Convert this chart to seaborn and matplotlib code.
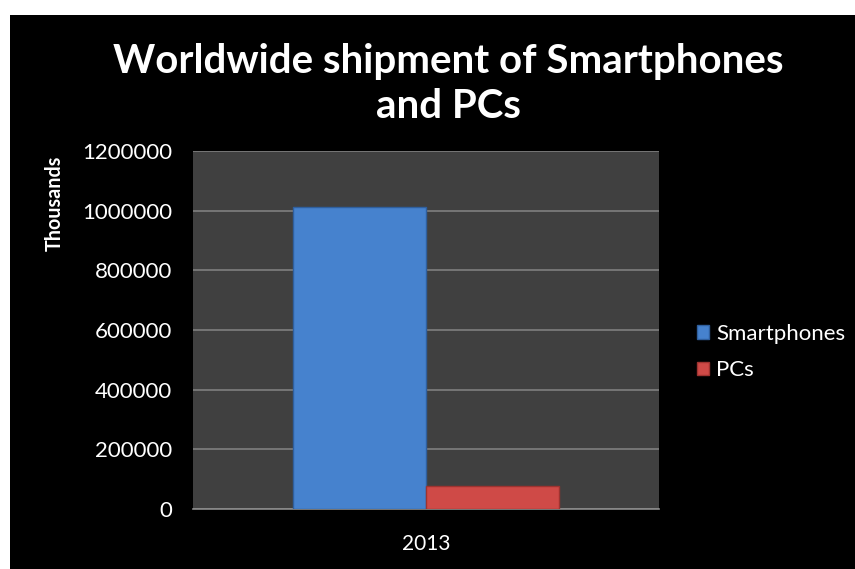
import matplotlib
matplotlib.use("Agg")
import matplotlib.pyplot as plt
from matplotlib.patches import Rectangle, Patch
import seaborn as sns
import pandas as pd

years = ["2013"]
series = ["Smartphones", "PCs"]
values = [1013000, 78000]
colors = ["#4682CE", "#CF4A47"]
edge_colors = ["#2F5F9E", "#9E3330"]
y_ticks = [0, 200000, 400000, 600000, 800000, 1000000, 1200000]

df = pd.DataFrame({"Year": years * len(series), "Series": series, "Value": values})

sns.set_theme(style="dark")
plt.rcParams["font.family"] = ["Lato", "DejaVu Sans"]

fig = plt.figure(figsize=(8.55, 5.69), dpi=100)
fig.patch.set_facecolor("white")
fig.patches.append(Rectangle((10 / 855, 0), 1 - 10 / 855, 1 - 15 / 569,
                             transform=fig.transFigure, facecolor="black",
                             edgecolor="none", zorder=-5))

ax = fig.add_axes([193 / 855, 1 - 509 / 569, 466 / 855, 358 / 569])
ax.set_zorder(2)
ax.set_facecolor("#404040")

sns.barplot(data=df, x="Year", y="Value", hue="Series", hue_order=series,
            palette=colors, width=0.57, ax=ax, legend=False, saturation=1)

for patch, ec in zip(ax.patches, edge_colors):
    patch.set_edgecolor(ec)
    patch.set_linewidth(1.0)
    patch.set_zorder(3)

ax.set_ylim(0, 1200000)
ax.set_xlim(-0.5, 0.5)
ax.set_yticks(y_ticks)
ax.set_yticklabels([str(v) for v in y_ticks])
ax.yaxis.grid(True, color="#7F7F7F", linewidth=1.2, zorder=1)
ax.xaxis.grid(False)
ax.set_axisbelow(True)
for s in ["top", "right", "left"]:
    ax.spines[s].set_visible(False)
ax.spines["bottom"].set_color("#8C8C8C")
ax.spines["bottom"].set_linewidth(1.2)
ax.tick_params(axis="y", colors="white", labelsize=16, length=0, pad=15)
ax.tick_params(axis="x", colors="white", labelsize=15, length=0, pad=18)
ax.set_xlabel("")
ax.set_ylabel("")

fig.text(55 / 855, 1 - 203 / 569, "Thousands", rotation=90, color="white",
         fontsize=14.2, fontweight="bold", ha="center", va="center")

fig.text(448 / 855, 1 - 84 / 569, "Worldwide shipment of Smartphones\nand PCs",
         color="white", fontsize=29, fontweight="bold", ha="center",
         va="center", linespacing=1.28)

handles = [Patch(facecolor=c, edgecolor=e) for c, e in zip(colors, edge_colors)]
leg = fig.legend(handles, series, loc="center left",
                 bbox_to_anchor=(697 / 855, 1 - 352 / 569), frameon=False,
                 fontsize=16, handlelength=0.55, handleheight=0.55,
                 handletextpad=0.3, labelspacing=0.75, borderpad=0,
                 borderaxespad=0)
for t in leg.get_texts():
    t.set_color("white")

fig.savefig("out.png", dpi=100, facecolor=fig.get_facecolor())
